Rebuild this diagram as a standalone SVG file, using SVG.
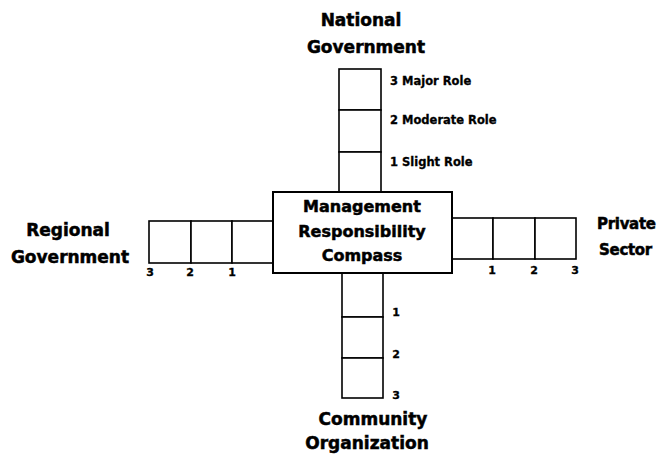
<svg xmlns="http://www.w3.org/2000/svg" width="661" height="455" viewBox="0 0 661 455">
<style>
text{font-family:"DejaVu Sans","Liberation Sans",sans-serif;font-weight:bold;fill:#000;stroke:#000;stroke-width:0.5}
.big{font-size:17px}
.rt{font-size:15px;letter-spacing:-0.3px}
.ctr{font-size:16px;text-anchor:middle}
.sm{font-size:11.5px;stroke-width:0.3}
.num{font-size:11px;text-anchor:middle;stroke-width:0.3}
.cell{fill:#fff;stroke:#000;stroke-width:1.6}
.box{fill:#fff;stroke:#000;stroke-width:2}
</style>
<rect width="661" height="455" fill="#fff"/>
<g id="connectors">
<g id="arm-national">
<rect class="cell" x="339" y="69" width="42" height="41"/>
<rect class="cell" x="339" y="110" width="42" height="42"/>
<rect class="cell" x="339" y="152" width="42" height="40"/>
</g>
<g id="arm-regional">
<rect class="cell" x="149" y="221" width="42" height="42"/>
<rect class="cell" x="191" y="221" width="41" height="42"/>
<rect class="cell" x="232" y="221" width="41" height="42"/>
</g>
<g id="arm-private">
<rect class="cell" x="452" y="218" width="41" height="41"/>
<rect class="cell" x="493" y="218" width="42" height="41"/>
<rect class="cell" x="535" y="218" width="41" height="41"/>
</g>
<g id="arm-community">
<rect class="cell" x="342" y="273" width="41" height="44"/>
<rect class="cell" x="342" y="317" width="41" height="41"/>
<rect class="cell" x="342" y="358" width="41" height="40"/>
</g>
</g>
<g id="center">
<rect class="box" x="273" y="192" width="179" height="81"/>
<text class="ctr" x="362" y="212">Management</text>
<text class="ctr" x="362" y="237">Responsibility</text>
<text class="ctr" x="362" y="261">Compass</text>
</g>
<g id="national">
<text class="big" x="361" y="26" text-anchor="middle">National</text>
<text class="big" x="366" y="53" text-anchor="middle">Government</text>
<text class="sm" x="390" y="85">3 Major Role</text>
<text class="sm" x="390" y="124">2 Moderate Role</text>
<text class="sm" x="390" y="166">1 Slight Role</text>
</g>
<g id="regional">
<text class="big" x="68" y="236" text-anchor="middle">Regional</text>
<text class="big" x="70" y="263" text-anchor="middle">Government</text>
<text class="num" x="150" y="276">3</text>
<text class="num" x="190" y="276">2</text>
<text class="num" x="232" y="276">1</text>
</g>
<g id="private">
<text class="rt" x="597" y="229">Private</text>
<text class="rt" x="599" y="255">Sector</text>
<text class="num" x="492" y="274">1</text>
<text class="num" x="534" y="274">2</text>
<text class="num" x="575" y="274">3</text>
</g>
<g id="community">
<text class="big" x="373" y="425" text-anchor="middle">Community</text>
<text class="big" x="367" y="449" text-anchor="middle">Organization</text>
<text class="num" x="396" y="316">1</text>
<text class="num" x="396" y="358">2</text>
<text class="num" x="396" y="399">3</text>
</g>
</svg>
